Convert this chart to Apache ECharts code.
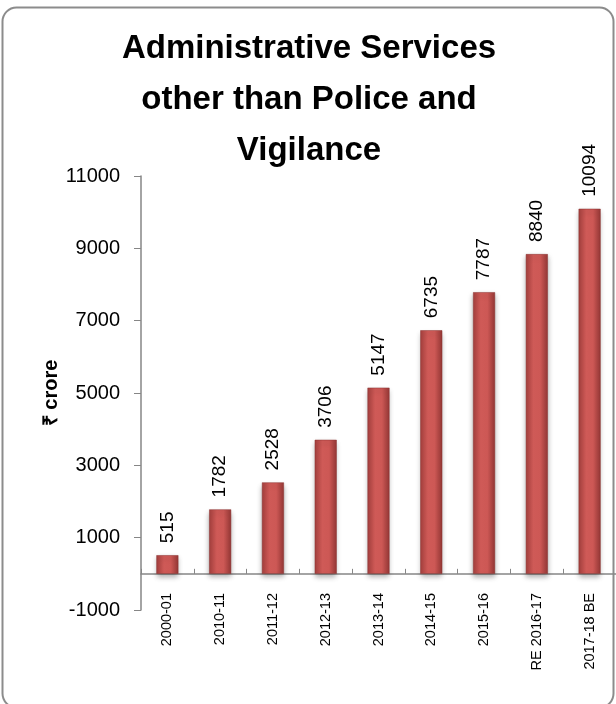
<!DOCTYPE html>
<html>
<head>
<meta charset="utf-8">
<script src="https://cdn.jsdelivr.net/npm/echarts@6/dist/echarts.min.js"></script>
<style>
  html, body { margin: 0; padding: 0; background: #ffffff; }
  #chart { width: 616px; height: 704px; }
</style>
</head>
<body>
<div id="chart"></div>
<script>
// chart data
const categories = ["2000-01", "2010-11", "2011-12", "2012-13", "2013-14", "2014-15", "2015-16", "RE 2016-17", "2017-18 BE"];
const values = [515, 1782, 2528, 3706, 5147, 6735, 7787, 8840, 10094];
const yTicks = [-1000, 1000, 3000, 5000, 7000, 9000, 11000];

const chart = echarts.init(document.getElementById("chart"));

const barColor = new echarts.graphic.LinearGradient(0, 0, 1, 0, [
  { offset: 0, color: "#a5403e" },
  { offset: 0.35, color: "#cf5a57" },
  { offset: 0.65, color: "#cd5855" },
  { offset: 1, color: "#963836" },
]);

const option = {
  backgroundColor: "#ffffff",
  textStyle: { fontFamily: "Liberation Sans" },
  title: {
    text: "Administrative Services\nother than Police and\nVigilance",
    left: 304,
    textAlign: "center",
    top: 18,
    textStyle: {
      fontFamily: "Liberation Sans",
      fontSize: 33,
      fontWeight: "bold",
      color: "#000000",
      lineHeight: 51,
    },
  },
  graphic: [
    {
      type: "rect",
      shape: { x: 2.5, y: 7.5, width: 611, height: 700, r: 14 },
      style: { fill: "none", stroke: "#8c8c8c", lineWidth: 2 },
      silent: true,
      z: -1,
    },
  ],
  grid: { left: 141, right: -6, top: 176, bottom: 94 },
  xAxis: {
    type: "category",
    data: categories,
    axisLine: { onZero: true, lineStyle: { color: "#868686", width: 1.5 } },
    axisTick: { show: true, inside: true, length: 5, lineStyle: { color: "#868686" } },
    axisLabel: {
      rotate: 90,
      margin: -17,
      fontSize: 14.5,
      color: "#000000",
      interval: 0,
    },
  },
  yAxis: {
    type: "value",
    min: -1000,
    max: 11000,
    interval: 1000,
    name: "₹ crore",
    nameLocation: "middle",
    nameGap: 80,
    nameMoveOverlap: false,
    nameRotate: 90,
    nameTextStyle: { fontSize: 20, fontWeight: "bold", color: "#000000" },
    axisLine: { show: true, lineStyle: { color: "#868686", width: 1.5 } },
    axisTick: { show: true, length: 7, customValues: yTicks, lineStyle: { color: "#868686" } },
    axisLabel: {
      customValues: yTicks,
      formatter: (v) => String(v),
      fontSize: 20,
      color: "#000000",
      margin: 21,
    },
    splitLine: { show: false },
  },
  series: [
    {
      type: "bar",
      data: values,
      barWidth: 22,
      itemStyle: {
        color: barColor,
        borderColor: "#8a3331",
        borderWidth: 0.5,
        shadowColor: "rgba(0,0,0,0.3)",
        shadowBlur: 5,
        shadowOffsetY: 3,
      },
      label: {
        show: true,
        position: "top",
        rotate: 90,
        align: "left",
        verticalAlign: "middle",
        distance: 12,
        fontSize: 19,
        color: "#000000",
      },
    },
  ],
};

chart.setOption(option);
</script>
</body>
</html>
